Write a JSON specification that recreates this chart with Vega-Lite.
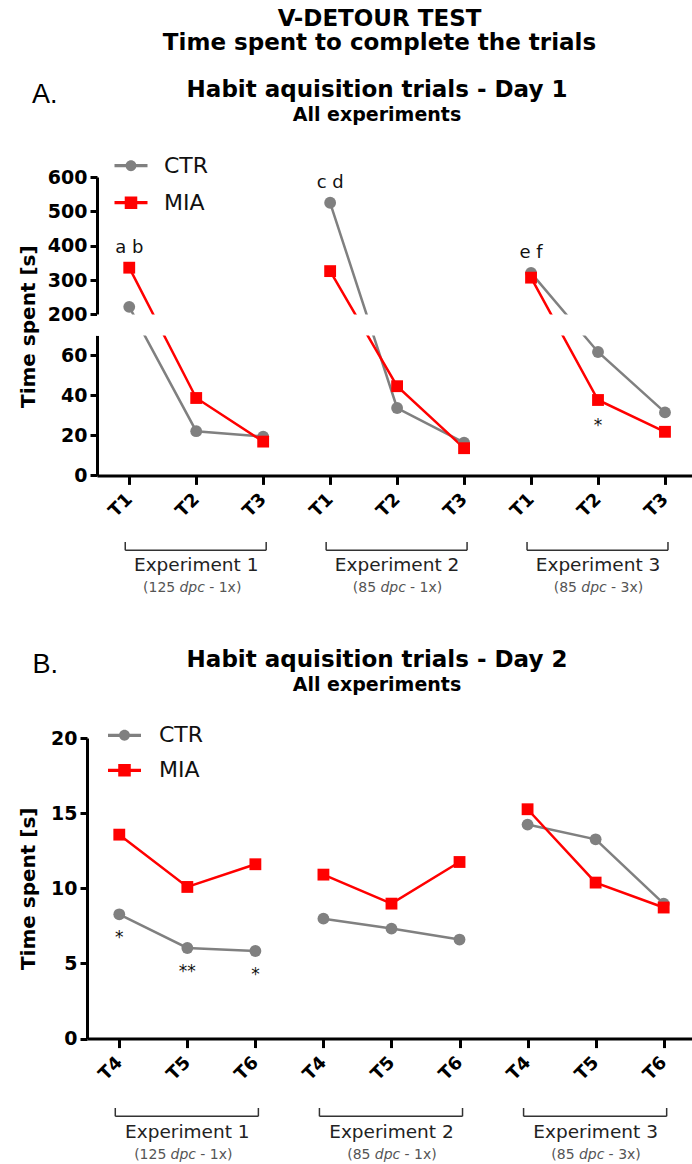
{
  "$schema": "https://vega.github.io/schema/vega-lite/v6.json",
  "padding": {"left": 18, "top": 8, "right": 0, "bottom": 0},
  "title": {
    "text": ["V-DETOUR TEST", "Time spent to complete the trials"],
    "fontSize": 23,
    "lineHeight": 24,
    "anchor": "middle",
    "dx": 19,
    "offset": 24
  },
  "datasets": {
    "day1": [
      {"exp": "Experiment 1", "trial": "T1", "slot": "E1 T1", "group": "CTR", "time": 222},
      {"exp": "Experiment 1", "trial": "T1", "slot": "E1 T1", "group": "MIA", "time": 336, "letters": "a b"},
      {"exp": "Experiment 1", "trial": "T2", "slot": "E1 T2", "group": "CTR", "time": 22.1},
      {"exp": "Experiment 1", "trial": "T2", "slot": "E1 T2", "group": "MIA", "time": 38.7},
      {"exp": "Experiment 1", "trial": "T3", "slot": "E1 T3", "group": "CTR", "time": 19.4},
      {"exp": "Experiment 1", "trial": "T3", "slot": "E1 T3", "group": "MIA", "time": 16.9},
      {"exp": "Experiment 2", "trial": "T1", "slot": "E2 T1", "group": "CTR", "time": 525, "letters": "c d"},
      {"exp": "Experiment 2", "trial": "T1", "slot": "E2 T1", "group": "MIA", "time": 326},
      {"exp": "Experiment 2", "trial": "T2", "slot": "E2 T2", "group": "CTR", "time": 33.7},
      {"exp": "Experiment 2", "trial": "T2", "slot": "E2 T2", "group": "MIA", "time": 44.6},
      {"exp": "Experiment 2", "trial": "T3", "slot": "E2 T3", "group": "CTR", "time": 16.4},
      {"exp": "Experiment 2", "trial": "T3", "slot": "E2 T3", "group": "MIA", "time": 13.6},
      {"exp": "Experiment 3", "trial": "T1", "slot": "E3 T1", "group": "CTR", "time": 321, "letters": "e f"},
      {"exp": "Experiment 3", "trial": "T1", "slot": "E3 T1", "group": "MIA", "time": 307},
      {"exp": "Experiment 3", "trial": "T2", "slot": "E3 T2", "group": "CTR", "time": 61.7},
      {"exp": "Experiment 3", "trial": "T2", "slot": "E3 T2", "group": "MIA", "time": 37.7, "sig": "*"},
      {"exp": "Experiment 3", "trial": "T3", "slot": "E3 T3", "group": "CTR", "time": 31.5},
      {"exp": "Experiment 3", "trial": "T3", "slot": "E3 T3", "group": "MIA", "time": 21.8}
    ],
    "day2": [
      {"exp": "Experiment 1", "trial": "T4", "slot": "E1 T4", "group": "CTR", "time": 8.27, "sig": "*"},
      {"exp": "Experiment 1", "trial": "T4", "slot": "E1 T4", "group": "MIA", "time": 13.57},
      {"exp": "Experiment 1", "trial": "T5", "slot": "E1 T5", "group": "CTR", "time": 6.03, "sig": "**"},
      {"exp": "Experiment 1", "trial": "T5", "slot": "E1 T5", "group": "MIA", "time": 10.09},
      {"exp": "Experiment 1", "trial": "T6", "slot": "E1 T6", "group": "CTR", "time": 5.83, "sig": "*"},
      {"exp": "Experiment 1", "trial": "T6", "slot": "E1 T6", "group": "MIA", "time": 11.6},
      {"exp": "Experiment 2", "trial": "T4", "slot": "E2 T4", "group": "CTR", "time": 7.98},
      {"exp": "Experiment 2", "trial": "T4", "slot": "E2 T4", "group": "MIA", "time": 10.91},
      {"exp": "Experiment 2", "trial": "T5", "slot": "E2 T5", "group": "CTR", "time": 7.32},
      {"exp": "Experiment 2", "trial": "T5", "slot": "E2 T5", "group": "MIA", "time": 8.98},
      {"exp": "Experiment 2", "trial": "T6", "slot": "E2 T6", "group": "CTR", "time": 6.59},
      {"exp": "Experiment 2", "trial": "T6", "slot": "E2 T6", "group": "MIA", "time": 11.75},
      {"exp": "Experiment 3", "trial": "T4", "slot": "E3 T4", "group": "CTR", "time": 14.24},
      {"exp": "Experiment 3", "trial": "T4", "slot": "E3 T4", "group": "MIA", "time": 15.26},
      {"exp": "Experiment 3", "trial": "T5", "slot": "E3 T5", "group": "CTR", "time": 13.26},
      {"exp": "Experiment 3", "trial": "T5", "slot": "E3 T5", "group": "MIA", "time": 10.38},
      {"exp": "Experiment 3", "trial": "T6", "slot": "E3 T6", "group": "CTR", "time": 8.98},
      {"exp": "Experiment 3", "trial": "T6", "slot": "E3 T6", "group": "MIA", "time": 8.72}
    ],
    "exps1": [
      {"exp": "Experiment 1", "from": "E1 T1", "mid": "E1 T2", "to": "E1 T3", "pre": "(125", "post": "- 1x)"},
      {"exp": "Experiment 2", "from": "E2 T1", "mid": "E2 T2", "to": "E2 T3", "pre": "(85", "post": "- 1x)"},
      {"exp": "Experiment 3", "from": "E3 T1", "mid": "E3 T2", "to": "E3 T3", "pre": "(85", "post": "- 3x)"}
    ],
    "exps2": [
      {"exp": "Experiment 1", "from": "E1 T4", "mid": "E1 T5", "to": "E1 T6", "pre": "(125", "post": "- 1x)"},
      {"exp": "Experiment 2", "from": "E2 T4", "mid": "E2 T5", "to": "E2 T6", "pre": "(85", "post": "- 1x)"},
      {"exp": "Experiment 3", "from": "E3 T4", "mid": "E3 T5", "to": "E3 T6", "pre": "(85", "post": "- 3x)"}
    ]
  },
  "columns": 1,
  "align": "none",
  "spacing": 52,
  "concat": [
    {
      "title": {"text": "A.", "anchor": "start", "frame": "bounds", "font": "Liberation Sans", "fontSize": 27, "fontWeight": "normal", "dx": 14, "offset": -30},
      "spacing": 20,
      "resolve": {"scale": {"x": "shared"}},
      "vconcat": [
        {
          "width": 596,
          "height": 298.4,
          "title": {"text": "Habit aquisition trials - Day 1", "subtitle": "All experiments", "frame": "group", "dx": -18, "offset": 24},
          "data": {"name": "day1"},
          "resolve": {"scale": {"y": "independent", "color": "independent", "shape": "independent"}},
          "layer": [
            {
              "mark": {"type": "line", "strokeWidth": 2.5},
              "encoding": {
                "x": {"field": "slot", "type": "ordinal", "title": null, "scale": {"type": "point", "domain": ["E1 T1", "E1 T2", "E1 T3", "E2 T1", "E2 T2", "E2 T3", "E3 T1", "E3 T2", "E3 T3"], "padding": 0.45, "align": 0.535}, "axis": {"labelExpr": "slice(datum.label, 3)", "labelAngle": -45, "labelAlign": "right", "labelBaseline": "middle", "labelFontSize": 18, "labelPadding": 12, "tickSize": 9, "title": null}},
                "y": {"field": "time", "type": "quantitative", "scale": {"domain": [0, 70, 200, 600], "range": [298.4, 158.4, 137.4, 0], "nice": false, "zero": false}, "axis": {"orient": "left", "title": "Time spent [s]", "domain": false, "ticks": false, "labels": false, "titlePadding": 59}},
                "color": {"field": "group", "type": "nominal", "scale": {"domain": ["CTR", "MIA"], "range": ["#808080", "#ff0000"]}, "legend": null},
                "detail": {"field": "exp"}
              }
            },
            {
              "data": {"values": [{}]},
              "mark": {"type": "rect", "color": "#ffffff"},
              "encoding": {
                "y": {"datum": 70, "type": "quantitative", "scale": {"domain": [0, 70, 200, 600], "range": [298.4, 158.4, 137.4, 0], "nice": false, "zero": false}, "axis": null},
                "y2": {"datum": 200}
              }
            },
            {
              "transform": [{"filter": "datum.time <= 70"}],
              "mark": {"type": "point", "filled": true, "opacity": 1, "size": 140},
              "encoding": {
                "x": {"field": "slot", "type": "ordinal", "title": null, "scale": {"type": "point", "domain": ["E1 T1", "E1 T2", "E1 T3", "E2 T1", "E2 T2", "E2 T3", "E3 T1", "E3 T2", "E3 T3"], "padding": 0.45, "align": 0.535}},
                "y": {"field": "time", "type": "quantitative", "scale": {"domain": [0, 70], "range": [298.4, 158.4], "nice": false, "zero": false}, "axis": {"orient": "left", "values": [0, 20, 40, 60], "title": null}},
                "color": {"field": "group", "type": "nominal", "scale": {"domain": ["CTR", "MIA"], "range": ["#808080", "#ff0000"]}, "legend": null},
                "shape": {"field": "group", "type": "nominal", "scale": {"domain": ["CTR", "MIA"], "range": ["circle", "square"]}, "legend": null}
              }
            },
            {
              "transform": [{"filter": "datum.time >= 200"}],
              "mark": {"type": "point", "filled": true, "opacity": 1, "size": 140},
              "encoding": {
                "x": {"field": "slot", "type": "ordinal", "title": null, "scale": {"type": "point", "domain": ["E1 T1", "E1 T2", "E1 T3", "E2 T1", "E2 T2", "E2 T3", "E3 T1", "E3 T2", "E3 T3"], "padding": 0.45, "align": 0.535}},
                "y": {"field": "time", "type": "quantitative", "scale": {"domain": [200, 600], "range": [137.4, 0], "nice": false, "zero": false}, "axis": {"orient": "left", "values": [200, 300, 400, 500, 600], "title": null}},
                "color": {"field": "group", "type": "nominal", "scale": {"domain": ["CTR", "MIA"], "range": ["#808080", "#ff0000"]}, "legend": null},
                "shape": {"field": "group", "type": "nominal", "scale": {"domain": ["CTR", "MIA"], "range": ["circle", "square"]}, "legend": null}
              }
            },
            {
              "transform": [{"filter": "datum.letters"}],
              "mark": {"type": "text", "dy": -20, "fontSize": 18, "color": "#111111"},
              "encoding": {
                "x": {"field": "slot", "type": "ordinal", "title": null, "scale": {"type": "point", "domain": ["E1 T1", "E1 T2", "E1 T3", "E2 T1", "E2 T2", "E2 T3", "E3 T1", "E3 T2", "E3 T3"], "padding": 0.45, "align": 0.535}},
                "y": {"field": "time", "type": "quantitative", "scale": {"domain": [0, 70, 200, 600], "range": [298.4, 158.4, 137.4, 0], "nice": false, "zero": false}, "axis": null},
                "text": {"field": "letters"}
              }
            },
            {
              "transform": [{"filter": "datum.sig"}],
              "mark": {"type": "text", "dy": 26, "fontSize": 17, "color": "#111111"},
              "encoding": {
                "x": {"field": "slot", "type": "ordinal", "title": null, "scale": {"type": "point", "domain": ["E1 T1", "E1 T2", "E1 T3", "E2 T1", "E2 T2", "E2 T3", "E3 T1", "E3 T2", "E3 T3"], "padding": 0.45, "align": 0.535}},
                "y": {"field": "time", "type": "quantitative", "scale": {"domain": [0, 70, 200, 600], "range": [298.4, 158.4, 137.4, 0], "nice": false, "zero": false}, "axis": null},
                "text": {"field": "sig"}
              }
            },
            {
              "transform": [{"filter": "false"}],
              "mark": {"type": "point", "filled": true, "opacity": 1},
              "encoding": {
                "color": {"field": "group", "type": "nominal", "scale": {"domain": ["CTR", "MIA"], "range": ["#808080", "#ff0000"]}, "legend": {"title": null, "orient": "none", "legendX": 17.5, "legendY": -27.8, "symbolSize": 1089, "symbolStrokeWidth": 0, "labelFontSize": 22, "labelOffset": 16.5, "rowPadding": 9, "padding": 0}},
                "shape": {"field": "group", "type": "nominal", "scale": {"domain": ["CTR", "MIA"], "range": ["M-1,-0.1H1V0.1H-1Z M0.33,0A0.33,0.33,0,1,1,-0.33,0A0.33,0.33,0,1,1,0.33,0Z", "M-1,-0.1H1V0.1H-1Z M-0.38,-0.38H0.38V0.38H-0.38Z"]}, "legend": {"title": null, "orient": "none", "legendX": 17.5, "legendY": -27.8, "symbolSize": 1089, "symbolStrokeWidth": 0, "labelFontSize": 22, "labelOffset": 16.5, "rowPadding": 9, "padding": 0}}
              }
            }
          ]
        },
        {
          "width": 596,
          "height": 8.3,
          "data": {"name": "exps1"},
          "layer": [
            {
              "mark": {"type": "rule", "color": "#333333", "strokeWidth": 1.5, "xOffset": -4},
              "encoding": {
                "x": {"field": "from", "type": "ordinal", "title": null, "scale": {"type": "point", "domain": ["E1 T1", "E1 T2", "E1 T3", "E2 T1", "E2 T2", "E2 T3", "E3 T1", "E3 T2", "E3 T3"], "padding": 0.45, "align": 0.535}, "axis": null},
                "y": {"datum": 0, "type": "quantitative", "scale": {"domain": [0, 1], "reverse": true, "nice": false}, "axis": null},
                "y2": {"datum": 1}
              }
            },
            {
              "mark": {"type": "rule", "color": "#333333", "strokeWidth": 1.5, "xOffset": 3},
              "encoding": {
                "x": {"field": "to", "type": "ordinal", "title": null, "axis": null},
                "y": {"datum": 0, "type": "quantitative", "axis": null},
                "y2": {"datum": 1}
              }
            },
            {
              "mark": {"type": "rule", "color": "#333333", "strokeWidth": 1.5, "xOffset": -4, "x2Offset": 3},
              "encoding": {
                "x": {"field": "from", "type": "ordinal", "title": null, "axis": null},
                "x2": {"field": "to"},
                "y": {"datum": 1, "type": "quantitative", "axis": null}
              }
            },
            {
              "mark": {"type": "text", "dy": 20.7, "baseline": "alphabetic", "fontSize": 18.5, "color": "#222222"},
              "encoding": {
                "x": {"field": "mid", "type": "ordinal", "title": null, "axis": null},
                "y": {"datum": 1, "type": "quantitative", "axis": null},
                "text": {"field": "exp"}
              }
            },
            {
              "mark": {"type": "text", "dy": 38, "dx": -21, "align": "right", "baseline": "middle", "fontSize": 14, "color": "#555555"},
              "encoding": {
                "x": {"field": "mid", "type": "ordinal", "title": null, "axis": null},
                "y": {"datum": 1, "type": "quantitative", "axis": null},
                "text": {"field": "pre"}
              }
            },
            {
              "mark": {"type": "text", "dy": 38, "dx": -4, "align": "center", "baseline": "middle", "fontSize": 14, "fontStyle": "italic", "color": "#555555"},
              "encoding": {
                "x": {"field": "mid", "type": "ordinal", "title": null, "axis": null},
                "y": {"datum": 1, "type": "quantitative", "axis": null},
                "text": {"value": "dpc"}
              }
            },
            {
              "mark": {"type": "text", "dy": 38, "dx": 13, "align": "left", "baseline": "middle", "fontSize": 14, "color": "#555555"},
              "encoding": {
                "x": {"field": "mid", "type": "ordinal", "title": null, "axis": null},
                "y": {"datum": 1, "type": "quantitative", "axis": null},
                "text": {"field": "post"}
              }
            }
          ]
        }
      ]
    },
    {
      "title": {"text": "B.", "anchor": "start", "frame": "bounds", "font": "Liberation Sans", "fontSize": 27, "fontWeight": "normal", "dx": 14, "offset": -30},
      "spacing": 23,
      "resolve": {"scale": {"x": "shared"}},
      "vconcat": [
        {
          "width": 596,
          "height": 300.6,
          "title": {"text": "Habit aquisition trials - Day 2", "subtitle": "All experiments", "frame": "group", "dx": -18, "offset": 24},
          "data": {"name": "day2"},
          "resolve": {"scale": {"color": "independent", "shape": "independent"}},
          "layer": [
            {
              "mark": {"type": "line", "strokeWidth": 2.5},
              "encoding": {
                "x": {"field": "slot", "type": "ordinal", "title": null, "scale": {"type": "point", "domain": ["E1 T4", "E1 T5", "E1 T6", "E2 T4", "E2 T5", "E2 T6", "E3 T4", "E3 T5", "E3 T6"], "range": [-10, 596], "padding": 0.4527, "align": 0.524}, "axis": {"labelExpr": "slice(datum.label, 3)", "labelAngle": -45, "labelAlign": "right", "labelBaseline": "middle", "labelFontSize": 18, "labelPadding": 12, "tickSize": 9, "title": null}},
                "y": {"field": "time", "type": "quantitative", "scale": {"domain": [0, 20], "nice": false, "zero": true}, "axis": {"values": [0, 5, 10, 15, 20], "offset": 10, "title": "Time spent [s]", "titlePadding": 12}},
                "color": {"field": "group", "type": "nominal", "scale": {"domain": ["CTR", "MIA"], "range": ["#808080", "#ff0000"]}, "legend": null},
                "detail": {"field": "exp"}
              }
            },
            {
              "mark": {"type": "point", "filled": true, "opacity": 1, "size": 140},
              "encoding": {
                "x": {"field": "slot", "type": "ordinal", "title": null, "scale": {"type": "point", "domain": ["E1 T4", "E1 T5", "E1 T6", "E2 T4", "E2 T5", "E2 T6", "E3 T4", "E3 T5", "E3 T6"], "range": [-10, 596], "padding": 0.4527, "align": 0.524}},
                "y": {"field": "time", "type": "quantitative", "scale": {"domain": [0, 20], "nice": false, "zero": true}, "axis": {"values": [0, 5, 10, 15, 20], "offset": 10, "title": "Time spent [s]", "titlePadding": 12}},
                "color": {"field": "group", "type": "nominal", "scale": {"domain": ["CTR", "MIA"], "range": ["#808080", "#ff0000"]}, "legend": null},
                "shape": {"field": "group", "type": "nominal", "scale": {"domain": ["CTR", "MIA"], "range": ["circle", "square"]}, "legend": null}
              }
            },
            {
              "transform": [{"filter": "datum.sig"}],
              "mark": {"type": "text", "dy": 24, "fontSize": 17, "color": "#111111"},
              "encoding": {
                "x": {"field": "slot", "type": "ordinal", "title": null, "scale": {"type": "point", "domain": ["E1 T4", "E1 T5", "E1 T6", "E2 T4", "E2 T5", "E2 T6", "E3 T4", "E3 T5", "E3 T6"], "range": [-10, 596], "padding": 0.4527, "align": 0.524}},
                "y": {"field": "time", "type": "quantitative", "scale": {"domain": [0, 20], "nice": false, "zero": true}, "axis": {"values": [0, 5, 10, 15, 20], "offset": 10, "title": "Time spent [s]", "titlePadding": 12}},
                "text": {"field": "sig"}
              }
            },
            {
              "transform": [{"filter": "false"}],
              "mark": {"type": "point", "filled": true, "opacity": 1},
              "encoding": {
                "color": {"field": "group", "type": "nominal", "scale": {"domain": ["CTR", "MIA"], "range": ["#808080", "#ff0000"]}, "legend": {"title": null, "orient": "none", "legendX": 11, "legendY": -19.2, "symbolSize": 1089, "symbolStrokeWidth": 0, "labelFontSize": 22, "labelOffset": 18, "rowPadding": 7, "padding": 0}},
                "shape": {"field": "group", "type": "nominal", "scale": {"domain": ["CTR", "MIA"], "range": ["M-1,-0.1H1V0.1H-1Z M0.33,0A0.33,0.33,0,1,1,-0.33,0A0.33,0.33,0,1,1,0.33,0Z", "M-1,-0.1H1V0.1H-1Z M-0.38,-0.38H0.38V0.38H-0.38Z"]}, "legend": {"title": null, "orient": "none", "legendX": 11, "legendY": -19.2, "symbolSize": 1089, "symbolStrokeWidth": 0, "labelFontSize": 22, "labelOffset": 18, "rowPadding": 7, "padding": 0}}
              }
            }
          ]
        },
        {
          "width": 596,
          "height": 8.3,
          "data": {"name": "exps2"},
          "layer": [
            {
              "mark": {"type": "rule", "color": "#333333", "strokeWidth": 1.5, "xOffset": -4},
              "encoding": {
                "x": {"field": "from", "type": "ordinal", "title": null, "scale": {"type": "point", "domain": ["E1 T4", "E1 T5", "E1 T6", "E2 T4", "E2 T5", "E2 T6", "E3 T4", "E3 T5", "E3 T6"], "range": [-10, 596], "padding": 0.4527, "align": 0.524}, "axis": null},
                "y": {"datum": 0, "type": "quantitative", "scale": {"domain": [0, 1], "reverse": true, "nice": false}, "axis": null},
                "y2": {"datum": 1}
              }
            },
            {
              "mark": {"type": "rule", "color": "#333333", "strokeWidth": 1.5, "xOffset": 3},
              "encoding": {
                "x": {"field": "to", "type": "ordinal", "title": null, "axis": null},
                "y": {"datum": 0, "type": "quantitative", "axis": null},
                "y2": {"datum": 1}
              }
            },
            {
              "mark": {"type": "rule", "color": "#333333", "strokeWidth": 1.5, "xOffset": -4, "x2Offset": 3},
              "encoding": {
                "x": {"field": "from", "type": "ordinal", "title": null, "axis": null},
                "x2": {"field": "to"},
                "y": {"datum": 1, "type": "quantitative", "axis": null}
              }
            },
            {
              "mark": {"type": "text", "dy": 21.3, "baseline": "alphabetic", "fontSize": 18.5, "color": "#222222"},
              "encoding": {
                "x": {"field": "mid", "type": "ordinal", "title": null, "axis": null},
                "y": {"datum": 1, "type": "quantitative", "axis": null},
                "text": {"field": "exp"}
              }
            },
            {
              "mark": {"type": "text", "dy": 39, "dx": -21, "align": "right", "baseline": "middle", "fontSize": 14, "color": "#555555"},
              "encoding": {
                "x": {"field": "mid", "type": "ordinal", "title": null, "axis": null},
                "y": {"datum": 1, "type": "quantitative", "axis": null},
                "text": {"field": "pre"}
              }
            },
            {
              "mark": {"type": "text", "dy": 39, "dx": -4, "align": "center", "baseline": "middle", "fontSize": 14, "fontStyle": "italic", "color": "#555555"},
              "encoding": {
                "x": {"field": "mid", "type": "ordinal", "title": null, "axis": null},
                "y": {"datum": 1, "type": "quantitative", "axis": null},
                "text": {"value": "dpc"}
              }
            },
            {
              "mark": {"type": "text", "dy": 39, "dx": 13, "align": "left", "baseline": "middle", "fontSize": 14, "color": "#555555"},
              "encoding": {
                "x": {"field": "mid", "type": "ordinal", "title": null, "axis": null},
                "y": {"datum": 1, "type": "quantitative", "axis": null},
                "text": {"field": "post"}
              }
            }
          ]
        }
      ]
    }
  ],
  "config": {
    "view": {"stroke": null},
    "font": "DejaVu Sans",
    "background": "#ffffff",
    "title": {"font": "DejaVu Sans", "fontWeight": "bold", "fontSize": 23, "color": "#000000", "subtitleFont": "DejaVu Sans", "subtitleFontWeight": "bold", "subtitleFontSize": 19, "subtitleColor": "#000000", "subtitlePadding": 4},
    "axis": {"grid": false, "domainColor": "#000000", "domainWidth": 3, "tickColor": "#000000", "tickWidth": 3, "labelFont": "DejaVu Sans", "labelFontWeight": "bold", "labelColor": "#000000", "labelFontSize": 19, "titleFont": "DejaVu Sans", "titleFontWeight": "bold", "titleFontSize": 20, "titleColor": "#000000"},
    "axisY": {"tickSize": 7, "labelPadding": 3},
    "legend": {"labelFont": "DejaVu Sans", "labelColor": "#111111"}
  }
}
